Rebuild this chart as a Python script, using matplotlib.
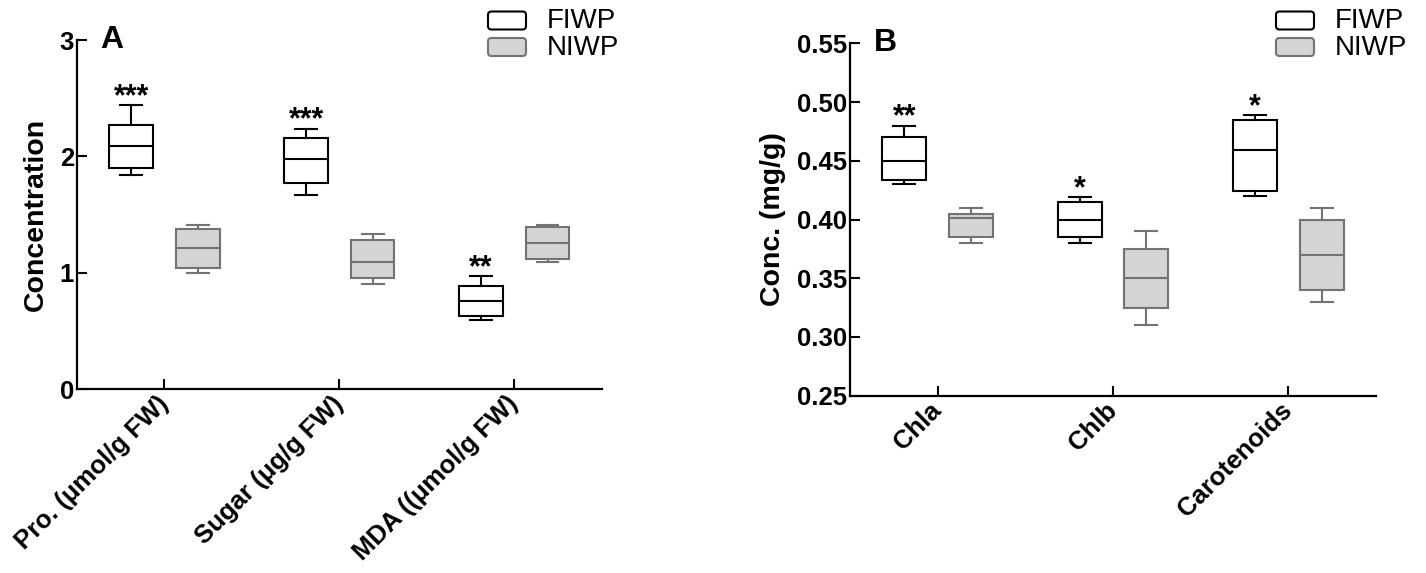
import matplotlib
matplotlib.use("Agg")
import matplotlib.pyplot as plt
from matplotlib.patches import FancyBboxPatch

plt.rcParams['font.family'] = ['Liberation Sans', 'DejaVu Sans']

# ---- datos (resumen de cajas: whislo, q1, med, q3, whishi) ----
groups = ["FIWP", "NIWP"]

cats_a = ["Pro. (μmol/g FW)", "Sugar (μg/g FW)", "MDA ((μmol/g FW)"]
fiwp_a = [
    (1.84, 1.90, 2.09, 2.27, 2.44),
    (1.67, 1.77, 1.98, 2.16, 2.24),
    (0.59, 0.63, 0.76, 0.89, 0.97),
]
niwp_a = [
    (1.00, 1.04, 1.21, 1.38, 1.41),
    (0.90, 0.955, 1.09, 1.28, 1.33),
    (1.09, 1.12, 1.26, 1.395, 1.41),
]
sig_a = ["***", "***", "**"]

cats_b = ["Chla", "Chlb", "Carotenoids"]
fiwp_b = [
    (0.430, 0.4335, 0.450, 0.470, 0.480),
    (0.380, 0.385, 0.400, 0.415, 0.419),
    (0.420, 0.424, 0.459, 0.485, 0.489),
]
niwp_b = [
    (0.380, 0.385, 0.401, 0.405, 0.410),
    (0.310, 0.325, 0.350, 0.375, 0.390),
    (0.330, 0.340, 0.370, 0.400, 0.410),
]
sig_b = ["**", "*", "*"]

FILL_N = "#d4d4d4"
EDGE_N = "#737373"
LW = 1.5


def stats(rows):
    return [dict(whislo=r[0], q1=r[1], med=r[2], q3=r[3], whishi=r[4], fliers=[])
            for r in rows]


def props(edge, fill):
    return dict(boxprops=dict(facecolor=fill, edgecolor=edge, linewidth=LW),
                medianprops=dict(color=edge, linewidth=LW),
                whiskerprops=dict(color=edge, linewidth=LW),
                capprops=dict(color=edge, linewidth=LW))


def legend_px(fig, x_px, y_px):
    # leyenda manual: cajas redondeadas + texto, en pixeles (origen arriba-izq)
    H = fig.get_figheight() * fig.dpi
    tr = fig.dpi_scale_trans
    for i, (name, edge, fill) in enumerate([(groups[0], "black", "white"),
                                            (groups[1], EDGE_N, FILL_N)]):
        top = y_px + i * 26.5
        fig.patches.append(FancyBboxPatch(
            (x_px / 100, (H - top - 18) / 100), 0.38, 0.18,
            boxstyle="round,pad=0,rounding_size=0.035",
            facecolor=fill, edgecolor=edge, linewidth=LW, transform=tr))
        fig.text((x_px + 59) / 100, (H - top - 17) / 100, name, transform=tr,
                 fontsize=20, ha="left", va="baseline")


def draw_panel(ax, cats, fiwp, niwp, sig, ylim, yticks, yfmt, ylabel, letter):
    pos = range(1, len(cats) + 1)
    off, w = 0.19, 0.25
    ax.bxp(stats(fiwp), positions=[p - off for p in pos], widths=w, capwidths=w / 2,
           patch_artist=True, showfliers=False, manage_ticks=False,
           **props("black", "white"))
    ax.bxp(stats(niwp), positions=[p + off for p in pos], widths=w, capwidths=w / 2,
           patch_artist=True, showfliers=False, manage_ticks=False,
           **props(EDGE_N, FILL_N))

    # asteriscos de significancia sobre FIWP
    for p, s, r in zip(pos, sig, fiwp):
        ax.annotate(s, (p - off, r[4]), xytext=(0, -5), textcoords="offset points",
                    ha="center", va="bottom", fontsize=22, fontweight="bold")

    ax.set_xlim(0.5, len(cats) + 0.5)
    ax.set_ylim(*ylim)
    ax.set_xticks(list(pos))
    ax.set_xticklabels(cats, rotation=45, ha="right", va="center",
                       rotation_mode="anchor", fontsize=18.5, fontweight="bold")
    ax.set_yticks(yticks)
    ax.set_yticklabels([yfmt.format(v) for v in yticks], fontsize=18.5, fontweight="bold")
    ax.tick_params(axis="both", direction="in", length=7, width=1.5)
    ax.tick_params(axis="x", pad=8)
    ax.tick_params(axis="y", pad=2)
    ax.set_ylabel(ylabel, fontsize=20.5, fontweight="bold", labelpad=8)
    for sp in ("top", "right"):
        ax.spines[sp].set_visible(False)
    for sp in ("left", "bottom"):
        ax.spines[sp].set_linewidth(1.6)
    ax.text(0.045, 1.0, letter, transform=ax.transAxes, fontsize=23,
            fontweight="bold", ha="left", va="center")


fig = plt.figure(figsize=(14.26, 5.73), dpi=100)
ax_a = fig.add_axes([0.054, 0.321, 0.368, 0.609])
ax_b = fig.add_axes([0.596, 0.3094, 0.369, 0.615])

draw_panel(ax_a, cats_a, fiwp_a, niwp_a, sig_a, (0, 3), [0, 1, 2, 3], "{:g}",
           "Concentration", "A")
draw_panel(ax_b, cats_b, fiwp_b, niwp_b, sig_b, (0.25, 0.55),
           [0.25, 0.30, 0.35, 0.40, 0.45, 0.50, 0.55], "{:.2f}",
           "Conc. (mg/g)", "B")

legend_px(fig, 488, 11.5)
legend_px(fig, 1276, 11.5)

fig.savefig("out.png", dpi=100)
